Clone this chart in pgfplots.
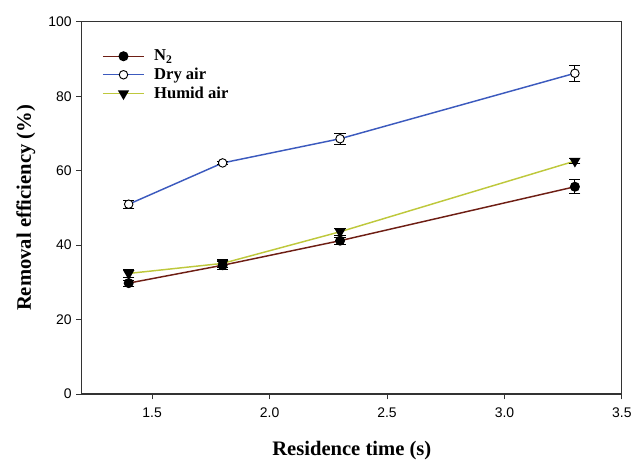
\documentclass[border=0pt]{standalone}
\usepackage{fontspec}
\setmainfont{Liberation Serif}
\setsansfont{Liberation Sans}
\usepackage{pgfplots}
\pgfplotsset{compat=1.18}
\definecolor{cN}{RGB}{110,30,20}
\definecolor{cDry}{RGB}{60,90,190}
\definecolor{cHum}{RGB}{190,200,60}
\begin{document}
\begin{tikzpicture}
\begin{axis}[
  scale only axis,
  width=406.5pt, height=280pt,
  xmin=1.2, xmax=3.5, ymin=0, ymax=100,
  xtick={1.5,2.0,2.5,3.0,3.5},
  ytick={0,20,40,60,80,100},
  tick align=outside,
  xtick pos=bottom, ytick pos=left,
  major tick length=4pt,
  axis line style={line width=0.8pt, black!80},
  tick style={line width=0.7pt, black!80},
  /pgf/number format/assume math mode=true,
  ticklabel style={font=\sffamily\fontsize{10.5}{12}\selectfont},
  xticklabel style={yshift=-3pt, /pgf/number format/.cd, fixed, fixed zerofill, precision=1},
  yticklabel style={/pgf/number format/.cd, fixed, precision=0},
  xlabel={\textbf{Residence time (s)}},
  ylabel={\textbf{Removal efficiency (\%)}},
  label style={font=\fontsize{15.5}{17}\selectfont},
  xlabel style={yshift=-11pt},
  ylabel style={yshift=3pt},
  legend style={draw=none, fill=none, at={(rel axis cs:0.03,0.94)}, anchor=north west,
    font=\bfseries\fontsize{12.5}{14}\selectfont, row sep=0pt},
  legend cell align=left,
  legend image code/.code={\draw[#1] (0pt,0pt) -- (31pt,0pt); \draw[#1, only marks] plot coordinates {(15.5pt,0pt)}; \path (36pt,0pt);},
  error bars/y dir=both, error bars/y explicit,
  error bars/error mark options={rotate=90, mark size=4.2pt, line width=0.7pt, black},
  error bars/error bar style={line width=0.7pt, black},
]
\addplot[cN, line width=1.1pt, mark=*, mark size=3.2pt, mark options={fill=black, draw=black}]
  coordinates {(1.4,29.8) +- (0,0.8) (1.8,34.6) +- (0,1.0) (2.3,41.2) +- (0,1.0) (3.3,55.7) +- (0,1.9)};
\addlegendentry{N\textsubscript{2}}
\addplot[cDry, line width=1.1pt, mark=*, mark size=3.2pt, mark options={fill=white, draw=black, line width=0.7pt}]
  coordinates {(1.4,51.0) +- (0,1.1) (1.8,62.1) +- (0,0.5) (2.3,68.6) +- (0,1.5) (3.3,86.2) +- (0,2.1)};
\addlegendentry{Dry air}
\addplot[cHum, line width=1.1pt, mark=triangle*, mark size=3.8pt, mark options={fill=black, draw=black, rotate=180}]
  coordinates {(1.4,32.4) +- (0,1.0) (1.8,35.1) +- (0,1.0) (2.3,43.6) +- (0,1.0) (3.3,62.6) +- (0,0.7)};
\addlegendentry{Humid air}
\end{axis}
\path (current axis.south west) ++(-61.5pt,-49pt) coordinate (bl);
\path (current axis.north east) ++(9pt,16.5pt) coordinate (tr);
\path[use as bounding box] (bl) rectangle (tr);
\end{tikzpicture}
\end{document}
